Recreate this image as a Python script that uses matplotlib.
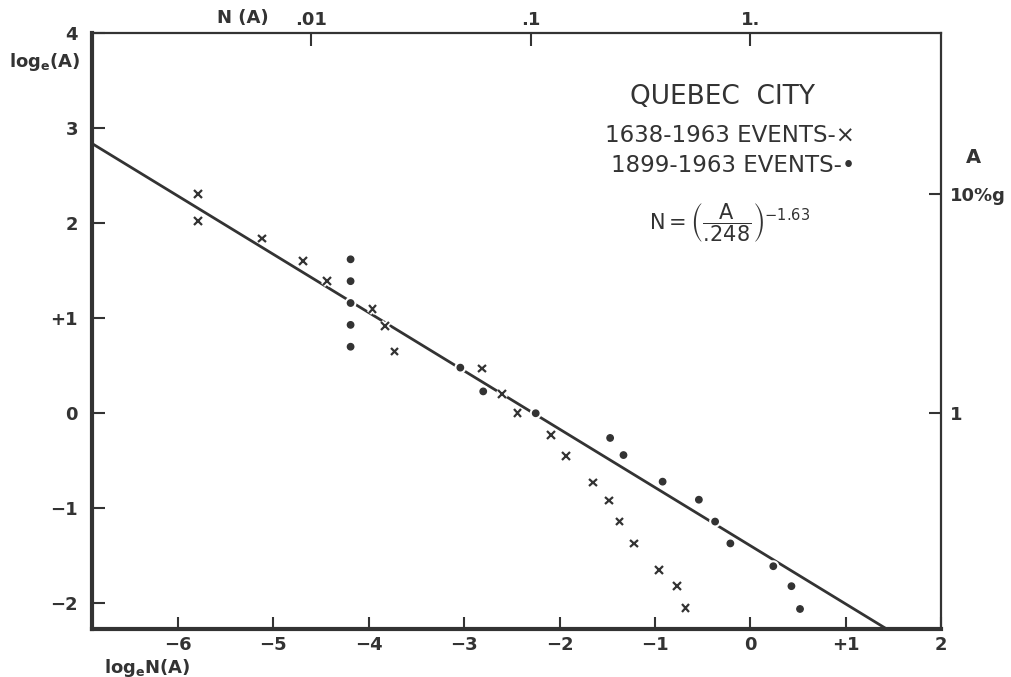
import numpy as np
import matplotlib
matplotlib.use("Agg")
import matplotlib.pyplot as plt
import matplotlib.patheffects as pe

plt.rcParams['font.family'] = ['DejaVu Sans']
plt.rcParams['mathtext.fontset'] = 'dejavusans'
plt.rcParams['mathtext.default'] = 'regular'

INK = '#333333'

# 1638-1963 events (crosses): log_e N(A), log_e A
cross_lnN = [-5.79, -5.79, -5.12, -4.69, -4.44, -3.96, -3.83, -3.73,
             -2.81, -2.60, -2.44, -2.09, -1.93, -1.65, -1.48, -1.37,
             -1.22, -0.96, -0.77, -0.68]
cross_lnA = [2.31, 2.02, 1.84, 1.60, 1.39, 1.10, 0.92, 0.65,
             0.47, 0.20, 0.00, -0.23, -0.45, -0.73, -0.92, -1.14,
             -1.37, -1.65, -1.82, -2.05]

# 1899-1963 events (dots)
dot_lnN = [-4.19, -4.19, -4.19, -4.19, -4.19, -3.04, -2.80, -2.25,
           -1.47, -1.33, -0.92, -0.54, -0.37, -0.21, 0.24, 0.43, 0.52]
dot_lnA = [1.62, 1.39, 1.16, 0.93, 0.70, 0.48, 0.23, 0.00,
           -0.26, -0.44, -0.72, -0.91, -1.14, -1.37, -1.61, -1.82, -2.06]

# fitted relation N = (A/.248)^-1.63
A0 = 0.248
b = 1.63
line_lnN = [-6.9, 1.45]

x_ticks = [-6, -5, -4, -3, -2, -1, 0, 1, 2]
x_labels = ['\u22126', '\u22125', '\u22124', '\u22123', '\u22122', '\u22121', '0', '+1', '2']
y_ticks = [-2, -1, 0, 1, 2, 3, 4]
y_labels = ['\u22122', '\u22121', '0', '+1', '2', '3', '4']
top_vals = [0.01, 0.1, 1.0]
top_labels = ['.01', '.1', '1.']
right_vals = [10.0, 1.0]
right_labels = ['10%g', '1']

fig = plt.figure(figsize=(10.11, 6.77), dpi=100)
ax = fig.add_axes([0.091, 0.071, 0.84, 0.880])
xlim = (-6.9, 2.0)
ylim = (-2.27, 4.0)

lx = np.array(line_lnN)
ly = np.log(A0) - lx / b
ax.plot(lx, ly, color=INK, lw=2.0, zorder=2)

halo = [pe.withStroke(linewidth=4, foreground='white')]
ax.plot(cross_lnN, cross_lnA, linestyle='none', marker='x', ms=5.5, mew=1.6,
        color=INK, zorder=3, path_effects=halo)
ax.plot(dot_lnN, dot_lnA, linestyle='none', marker='o', ms=4.6,
        color=INK, mec=INK, zorder=3, path_effects=halo)

ax.set_xlim(*xlim)
ax.set_ylim(*ylim)
ax.set_xticks(x_ticks)
ax.set_xticklabels(x_labels, fontsize=13, fontweight='bold', color=INK)
ax.set_yticks(y_ticks)
ax.set_yticklabels(y_labels, fontsize=13, fontweight='bold', color=INK)
ax.tick_params(axis='both', direction='in', length=9, width=1.5, colors=INK, pad=5)
ax.tick_params(axis='y', pad=10)
for s in ['left', 'bottom']:
    ax.spines[s].set_linewidth(3.0)
    ax.spines[s].set_color(INK)
for s in ['top', 'right']:
    ax.spines[s].set_linewidth(1.6)
    ax.spines[s].set_color(INK)

# top axis: N(A)
axt = ax.twiny()
axt.set_xlim(*xlim)
axt.set_xticks(np.log(top_vals))
axt.set_xticklabels(top_labels, fontsize=13, fontweight='bold', color=INK)
axt.tick_params(axis='x', direction='in', length=9, width=1.5, colors=INK, pad=3)
for s in axt.spines.values():
    s.set_visible(False)

# right axis: A
axr = ax.twinx()
axr.set_ylim(*ylim)
axr.set_yticks(np.log(right_vals))
axr.set_yticklabels(right_labels, fontsize=13, fontweight='bold', color=INK)
axr.tick_params(axis='y', direction='in', length=9, width=1.5, colors=INK, pad=6)
for s in axr.spines.values():
    s.set_visible(False)

# axis titles
fig.text(0.044, 0.908, r'$\mathbf{log_{e}(A)}$', fontsize=13, color=INK, ha='center', va='center')
fig.text(0.146, 0.014, r'$\mathbf{log_{e}N(A)}$', fontsize=13, color=INK, ha='center', va='center')
fig.text(0.240, 0.973, 'N (A)', fontsize=13, fontweight='bold', color=INK, ha='center', va='center')
fig.text(0.963, 0.768, 'A', fontsize=14, fontweight='bold', color=INK, ha='center', va='center')

# annotations
fig.text(0.715, 0.857, 'QUEBEC  CITY', fontsize=19, fontweight='medium',
         color=INK, ha='center', va='center')
fig.text(0.846, 0.800, '1638-1963 EVENTS-\u00d7', fontsize=16.5,
         color=INK, ha='right', va='center')
fig.text(0.846, 0.756, '1899-1963 EVENTS-\u2022', fontsize=16.5,
         color=INK, ha='right', va='center')
fig.text(0.722, 0.672, r'$N = \left(\dfrac{A}{.\!248}\right)^{-1.63}$',
         fontsize=15, color=INK, ha='center', va='center')

fig.savefig('out.png', dpi=100)
